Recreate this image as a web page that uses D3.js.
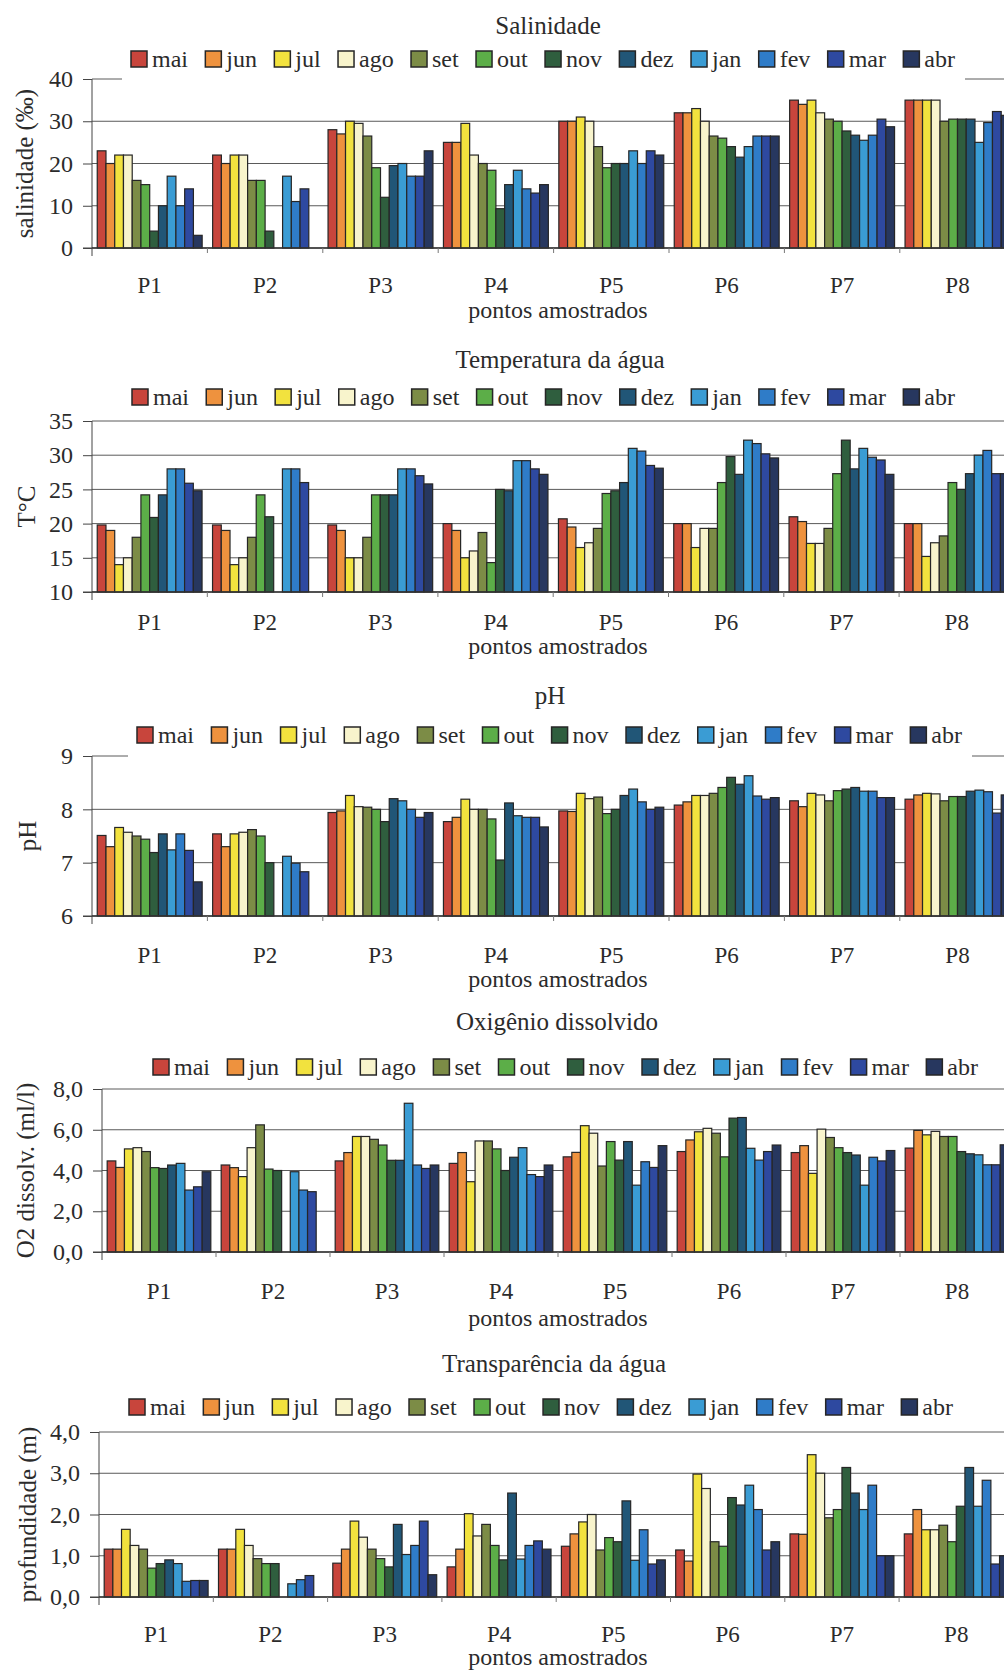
<!DOCTYPE html>
<html>
<head>
<meta charset="utf-8">
<script src="https://cdn.jsdelivr.net/npm/d3@7"></script>
<style>
  body { margin: 0; background: #fff; }
  text { font-family: "Liberation Serif", "Times New Roman", serif; fill: #2b2b2b; }
</style>
</head>
<body>
<div class="canvas"></div>
<script>
const months = ['mai', 'jun', 'jul', 'ago', 'set', 'out', 'nov', 'dez', 'jan', 'fev', 'mar', 'abr'];
const points = ['P1', 'P2', 'P3', 'P4', 'P5', 'P6', 'P7', 'P8'];
const monthColors = ['#c8453c', '#ee923e', '#f2e23e', '#f8f4cc', '#7c8c46', '#5cae48', '#2f5e3e',
  '#215677', '#3a9cd4', '#2f7cc8', '#2e49a0', '#27375f'];

// one row per point (P1..P8), one value per month (mai..abr); null = not sampled
const salinidade = [
  [23, 20, 22, 22, 16, 15, 4, 10, 17, 10, 14, 3],
  [22, 20, 22, 22, 16, 16, 4, null, 17, 11, 14, null],
  [28, 27, 30, 29.5, 26.5, 19, 12, 19.5, 20, 17, 17, 23],
  [25, 25, 29.5, 22, 20, 18.4, 9.3, 15, 18.4, 14, 13, 15],
  [30, 30, 31, 30, 24, 19, 20, 20, 23, 20, 23, 22],
  [32, 32, 33, 30, 26.5, 26, 24, 21.5, 24, 26.5, 26.5, 26.5],
  [35, 34, 35, 32, 30.5, 30, 27.7, 26.7, 25.5, 26.7, 30.5, 28.7],
  [35, 35, 35, 35, 30, 30.5, 30.5, 30.5, 25, 29.7, 32.3, 31.4]
];
const temperatura = [
  [19.8, 19, 14, 15, 18, 24.2, 20.9, 24.2, 28, 28, 25.9, 24.8],
  [19.8, 19, 14, 15, 18, 24.2, 21, null, 28, 28, 26, null],
  [19.8, 19, 15, 15, 18, 24.2, 24.2, 24.2, 28, 28, 27, 25.8],
  [20, 19, 15, 16, 18.7, 14.3, 25, 24.8, 29.2, 29.2, 28, 27.2],
  [20.7, 19.5, 16.5, 17.2, 19.3, 24.4, 24.8, 26, 31, 30.6, 28.5, 28.1],
  [20, 20, 16.5, 19.3, 19.3, 26, 29.8, 27.2, 32.2, 31.7, 30.2, 29.6],
  [21, 20.3, 17.1, 17.1, 19.3, 27.3, 32.2, 28, 31, 29.7, 29.3, 27.2],
  [20, 20, 15.2, 17.2, 18.2, 26, 25, 27.3, 30, 30.7, 27.3, 27.3]
];
const ph = [
  [7.51, 7.3, 7.66, 7.57, 7.5, 7.44, 7.19, 7.54, 7.24, 7.54, 7.23, 6.64],
  [7.54, 7.3, 7.54, 7.57, 7.62, 7.5, 7.0, null, 7.12, 6.99, 6.83, null],
  [7.94, 7.97, 8.26, 8.05, 8.04, 8.0, 7.77, 8.2, 8.16, 8.0, 7.85, 7.94],
  [7.77, 7.85, 8.19, 8.0, 8.0, 7.82, 7.05, 8.12, 7.88, 7.85, 7.85, 7.67],
  [7.97, 7.96, 8.3, 8.2, 8.23, 7.92, 8.0, 8.26, 8.38, 8.14, 8.0, 8.04],
  [8.08, 8.14, 8.26, 8.26, 8.3, 8.41, 8.6, 8.47, 8.63, 8.25, 8.19, 8.22],
  [8.16, 8.05, 8.3, 8.27, 8.16, 8.35, 8.38, 8.41, 8.34, 8.34, 8.22, 8.22],
  [8.19, 8.27, 8.3, 8.29, 8.16, 8.24, 8.24, 8.34, 8.36, 8.33, 7.93, 8.27]
];
const oxigenio = [
  [4.47, 4.15, 5.06, 5.12, 4.93, 4.14, 4.1, 4.27, 4.35, 3.04, 3.2, 3.94],
  [4.27, 4.14, 3.7, 5.12, 6.24, 4.07, 4.0, null, 3.94, 3.04, 2.96, null],
  [4.47, 4.88, 5.67, 5.67, 5.53, 5.25, 4.5, 4.5, 7.3, 4.27, 4.1, 4.27],
  [4.35, 4.88, 3.45, 5.45, 5.45, 5.06, 4.0, 4.65, 5.12, 3.8, 3.7, 4.27],
  [4.67, 4.89, 6.2, 5.83, 4.22, 5.42, 4.51, 5.42, 3.28, 4.43, 4.15, 5.22],
  [4.93, 5.5, 5.9, 6.07, 5.83, 4.67, 6.57, 6.6, 5.09, 4.51, 4.93, 5.25],
  [4.88, 5.22, 3.86, 6.03, 5.62, 5.12, 4.88, 4.76, 3.28, 4.65, 4.47, 4.98],
  [5.1, 5.97, 5.75, 5.92, 5.67, 5.67, 4.93, 4.82, 4.77, 4.28, 4.28, 5.26]
];
const transparencia = [
  [1.16, 1.16, 1.64, 1.25, 1.16, 0.7, 0.81, 0.9, 0.81, 0.38, 0.4, 0.4],
  [1.16, 1.16, 1.64, 1.25, 0.93, 0.81, 0.81, null, 0.32, 0.42, 0.52, null],
  [0.82, 1.16, 1.84, 1.45, 1.16, 0.93, 0.73, 1.76, 1.03, 1.25, 1.84, 0.54],
  [0.73, 1.16, 2.02, 1.48, 1.76, 1.25, 0.9, 2.52, 0.92, 1.25, 1.36, 1.16],
  [1.23, 1.53, 1.82, 2.0, 1.14, 1.44, 1.34, 2.33, 0.89, 1.63, 0.8, 0.9],
  [1.14, 0.87, 2.98, 2.63, 1.34, 1.23, 2.41, 2.23, 2.71, 2.12, 1.14, 1.34],
  [1.53, 1.52, 3.45, 3.0, 1.92, 2.12, 3.14, 2.52, 2.12, 2.71, 1.0, 1.0],
  [1.53, 2.12, 1.63, 1.63, 1.74, 1.34, 2.2, 3.14, 2.2, 2.83, 0.8, 1.0]
];

const salTicks = [0, 10, 20, 30, 40];
const tempTicks = [10, 15, 20, 25, 30, 35];
const phTicks = [6, 7, 8, 9];
const o2Ticks = [0, 2, 4, 6, 8];
const transTicks = [0, 1, 2, 3, 4];

const comma1 = d => d3.format('.1f')(d).replace('.', ',');

const panels = [
  { title: 'Salinidade', yLabel: 'salinidade (‰)', values: salinidade, ticks: salTicks, fmt: d => d,
    axisX: 92, groupW: 115.4, top: 79, bottom: 248, titleX: 548, titleY: 25, legendY: 59,
    legX0: 131, legX1: 955, labelY: 285, xTitleY: 310, yTitleX: 24, legendBg: true },
  { title: 'Temperatura da água', yLabel: 'T°C', values: temperatura, ticks: tempTicks, fmt: d => d,
    axisX: 92, groupW: 115.3, top: 421, bottom: 592, titleX: 560, titleY: 359, legendY: 397,
    legX0: 132, legX1: 955, labelY: 622, xTitleY: 646, yTitleX: 26, legendBg: false },
  { title: 'pH', yLabel: 'pH', values: ph, ticks: phTicks, fmt: d => d,
    axisX: 92, groupW: 115.4, top: 756, bottom: 916, titleX: 550, titleY: 695, legendY: 735,
    legX0: 137, legX1: 962, labelY: 955, xTitleY: 979, yTitleX: 27, legendBg: true },
  { title: 'Oxigênio dissolvido', yLabel: 'O2 dissolv. (ml/l)', values: oxigenio, ticks: o2Ticks, fmt: comma1,
    axisX: 102, groupW: 114, top: 1089, bottom: 1252, titleX: 557, titleY: 1021, legendY: 1067,
    legX0: 153, legX1: 978, labelY: 1291, xTitleY: 1318, yTitleX: 25, legendBg: false },
  { title: 'Transparência da água', yLabel: 'profundidade (m)', values: transparencia, ticks: transTicks, fmt: comma1,
    axisX: 99, groupW: 114.3, top: 1432, bottom: 1597, titleX: 554, titleY: 1363, legendY: 1407,
    legX0: 129, legX1: 953, labelY: 1634, xTitleY: 1657, yTitleX: 27, legendBg: false }
];

const svg = d3.select('.canvas')
  .append('svg')
  .attr('width', 1004)
  .attr('height', 1672);

panels.forEach(p => {
  const g = svg.append('g');

  const x = d3.scaleBand()
    .domain(points)
    .range([p.axisX, p.axisX + p.groupW * points.length])
    .paddingInner(0)
    .paddingOuter(0);

  const xm = d3.scaleBand()
    .domain(months)
    .range([0, x.bandwidth()])
    .paddingInner(0)
    .paddingOuter(0.6);

  const y = d3.scaleLinear()
    .domain(d3.extent(p.ticks))
    .range([p.bottom, p.top]);
  const base = y.domain()[0];

  // grid lines
  g.selectAll('line.grid')
    .data(p.ticks)
    .enter()
    .append('line')
    .attr('x1', p.axisX)
    .attr('x2', 1010)
    .attr('y1', d => y(d))
    .attr('y2', d => y(d))
    .attr('stroke', '#5a5a5a')
    .attr('stroke-width', 1);

  // bars
  points.forEach((pt, i) => {
    const rows = months.map((m, j) => ({ m, j, v: p.values[i][j] })).filter(d => d.v != null);
    g.selectAll(null)
      .data(rows)
      .enter()
      .append('rect')
      .attr('x', d => x(pt) + xm(d.m))
      .attr('y', d => y(d.v))
      .attr('width', xm.bandwidth())
      .attr('height', d => y(base) - y(d.v))
      .attr('fill', d => monthColors[d.j])
      .attr('stroke', '#262626')
      .attr('stroke-width', 1.2);
  });

  // y axis
  const yAxis = d3.axisLeft(y)
    .tickValues(p.ticks)
    .tickSize(9)
    .tickPadding(10)
    .tickFormat(p.fmt);
  const ya = g.append('g')
    .attr('transform', `translate(${p.axisX},0)`)
    .call(yAxis);
  ya.select('.domain').attr('stroke', '#444').attr('d', `M-9,${p.bottom}H0V${p.top}`);
  ya.selectAll('.tick line').attr('stroke', '#444');
  ya.selectAll('.tick text')
    .attr('font-family', '"Liberation Serif", serif')
    .attr('font-size', 24)
    .attr('fill', '#333');

  // baseline and group ticks
  g.append('line')
    .attr('x1', p.axisX).attr('x2', 1010)
    .attr('y1', p.bottom).attr('y2', p.bottom)
    .attr('stroke', '#333').attr('stroke-width', 1.3);
  g.append('line')
    .attr('x1', p.axisX).attr('x2', p.axisX)
    .attr('y1', p.bottom).attr('y2', p.bottom + 8)
    .attr('stroke', '#444');
  g.selectAll(null)
    .data(points.slice(1))
    .enter()
    .append('line')
    .attr('x1', d => x(d)).attr('x2', d => x(d))
    .attr('y1', p.bottom).attr('y2', p.bottom + 5)
    .attr('stroke', '#777');

  // point labels
  g.selectAll(null)
    .data(points)
    .enter()
    .append('text')
    .attr('x', d => x(d) + x.bandwidth() / 2)
    .attr('y', p.labelY)
    .attr('dy', '0.35em')
    .attr('text-anchor', 'middle')
    .attr('font-size', 23)
    .text(d => d);

  g.append('text')
    .attr('x', 558)
    .attr('y', p.xTitleY)
    .attr('dy', '0.35em')
    .attr('text-anchor', 'middle')
    .attr('font-size', 24)
    .text('pontos amostrados');

  g.append('text')
    .attr('transform', `translate(${p.yTitleX},${(p.top + p.bottom) / 2}) rotate(-90)`)
    .attr('dy', '0.35em')
    .attr('text-anchor', 'middle')
    .attr('font-size', 25)
    .text(p.yLabel);

  g.append('text')
    .attr('x', p.titleX)
    .attr('y', p.titleY)
    .attr('dy', '0.35em')
    .attr('text-anchor', 'middle')
    .attr('font-size', 25)
    .text(p.title);

  // legend
  if (p.legendBg) {
    g.append('rect')
      .attr('x', p.legX0 - 9)
      .attr('y', p.legendY - 17)
      .attr('width', p.legX1 - p.legX0 + 19)
      .attr('height', p.top - p.legendY + 20)
      .attr('fill', '#fff');
  }
  const leg = g.append('g');
  const items = leg.selectAll('g')
    .data(months)
    .enter()
    .append('g');
  items.append('rect')
    .attr('width', 16)
    .attr('height', 16)
    .attr('y', p.legendY - 8)
    .attr('fill', (d, i) => monthColors[i])
    .attr('stroke', '#262626')
    .attr('stroke-width', 1.5);
  items.append('text')
    .attr('x', 21)
    .attr('y', p.legendY)
    .attr('dy', '0.33em')
    .attr('font-size', 24)
    .text(d => d);
  const widths = [];
  items.select('text').each(function () { widths.push(21 + this.getComputedTextLength()); });
  const gap = (p.legX1 - p.legX0 - d3.sum(widths)) / (months.length - 1);
  let cx = p.legX0;
  items.attr('transform', (d, i) => {
    const t = `translate(${cx},0)`;
    cx += widths[i] + gap;
    return t;
  });
});
</script>
</body>
</html>
